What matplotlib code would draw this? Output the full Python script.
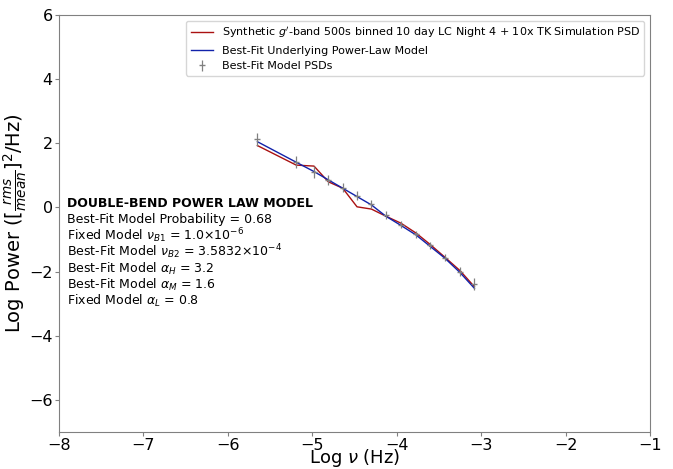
import numpy as np
import matplotlib
matplotlib.use("Agg")
import matplotlib.pyplot as plt

# log frequency bins of the PSD
log_freq = [-5.65, -5.19, -4.98, -4.81, -4.64, -4.47, -4.30, -4.13,
            -3.95, -3.77, -3.61, -3.43, -3.25, -3.08]

# synthetic light-curve PSD (red)
psd_data = [1.93, 1.32, 1.29, 0.80, 0.60, 0.02, -0.05, -0.27,
            -0.49, -0.80, -1.14, -1.55, -1.97, -2.47]

# best-fit underlying power-law model (blue)
psd_model = [2.05, 1.41, 1.12, 0.86, 0.60, 0.34, 0.08, -0.27,
             -0.56, -0.86, -1.20, -1.58, -2.03, -2.52]

# mean of simulated model PSDs and their spread
sim_mean = [2.12, 1.42, 1.10, 0.86, 0.62, 0.36, 0.10, -0.24,
            -0.54, -0.84, -1.18, -1.56, -2.00, -2.38]
sim_err = [0.20, 0.18, 0.18, 0.16, 0.15, 0.14, 0.13, 0.12,
           0.11, 0.11, 0.11, 0.12, 0.14, 0.18]

info_lines = [
    r"Best-Fit Model Probability = 0.68",
    r"Fixed Model $\nu_{B1}$ = 1.0$\times10^{-6}$",
    r"Best-Fit Model $\nu_{B2}$ = 3.5832$\times10^{-4}$",
    r"Best-Fit Model $\alpha_{H}$ = 3.2",
    r"Best-Fit Model $\alpha_{M}$ = 1.6",
    r"Fixed Model $\alpha_{L}$ = 0.8",
]

fig = plt.figure(figsize=(6.73, 4.69), dpi=100)
ax = fig.add_axes([59 / 673, 1 - 432 / 469, 591 / 673, 417 / 469])

ax.plot(log_freq, psd_data, color="#aa1111", lw=1.0,
        label=r"Synthetic $g'$-band 500s binned 10 day LC Night 4 + 10x TK Simulation PSD")
ax.plot(log_freq, psd_model, color="#1122aa", lw=1.0,
        label="Best-Fit Underlying Power-Law Model")
ax.errorbar(log_freq, sim_mean, yerr=sim_err, fmt="_", color="gray",
            ms=4, elinewidth=0.9, label="Best-Fit Model PSDs")

ax.set_xlim(-8, -1)
ax.set_ylim(-7, 6)
ax.set_xlabel(r"Log $\nu$ (Hz)", fontsize=13)
ax.xaxis.set_label_coords(0.5, -0.037)
ax.set_ylabel(r"Log Power ([$\frac{rms}{mean}$]$^2$/Hz)", fontsize=14)
ax.yaxis.set_label_coords(-0.05, 0.5)
ax.tick_params(labelsize=11.5, color="gray", length=3, pad=1.5)
for s in ax.spines.values():
    s.set_color("gray")

ax.legend(loc="upper right", fontsize=8, handlelength=2.0,
          borderaxespad=0.5, labelspacing=0.5)

ax.text(0.0135, 0.549, "DOUBLE-BEND POWER LAW MODEL", transform=ax.transAxes,
        fontsize=9, fontweight="bold", va="center")
for i, line in enumerate(info_lines):
    ax.text(0.0135, 0.510 - i * 0.0393, line, transform=ax.transAxes,
            fontsize=9, va="center")

fig.savefig("out.png", dpi=100)
